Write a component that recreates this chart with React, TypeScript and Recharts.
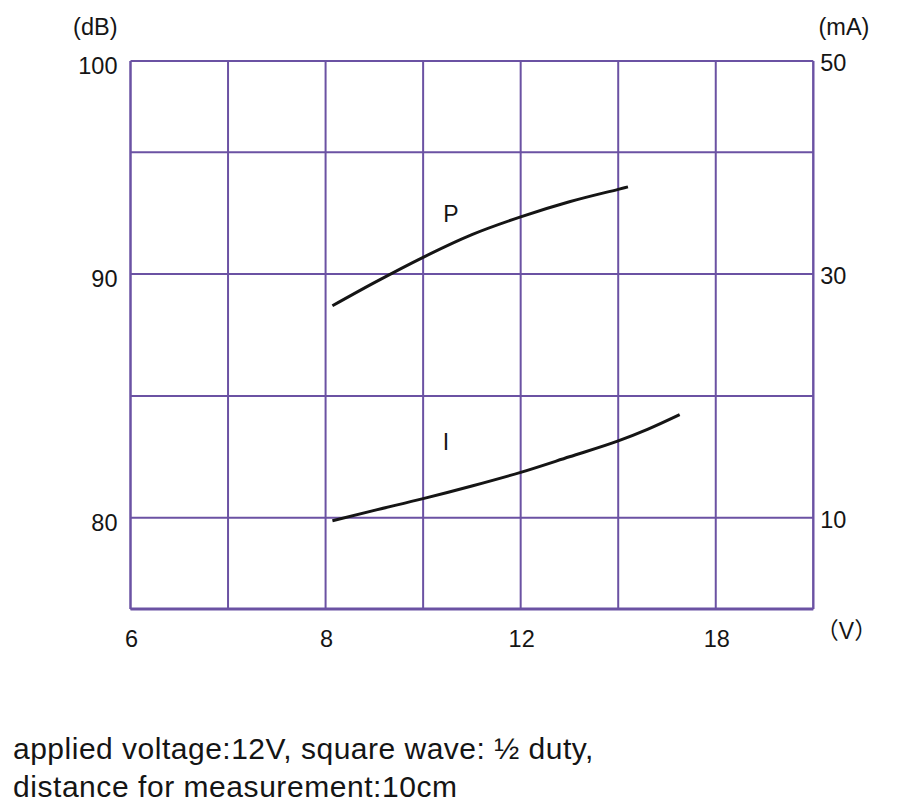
import React from 'react';
import { LineChart, Line, XAxis, YAxis, CartesianGrid, ReferenceDot } from 'recharts';

// x is the grid column (0..7); only some columns carry a voltage label
const columns = [0, 1, 2, 3, 4, 5, 6, 7];
const columnLabels: Record<number, string> = { 0: '6', 2: '8', 4: '12', 6: '18' };

// left axis (dB) and right axis (mA) grid rows
const dbTicks = [76.25, 80, 85, 90, 95, 98.75];
const dbLabels: Record<number, string> = { 80: '80', 90: '90', 98.75: '100' };
const maTicks = [2.5, 10, 20, 30, 40, 47.5];
const maLabels: Record<number, string> = { 10: '10', 30: '30', 47.5: '50' };

// P curve: sound pressure (dB)
const pPos = [2.07, 2.5, 3.0, 3.5, 4.0, 4.5, 5.0, 5.1];
const pDb = [88.7, 89.65, 90.69, 91.62, 92.35, 92.97, 93.48, 93.58];

// I curve: current (mA)
const iPos = [2.07, 2.5, 3.0, 3.5, 4.0, 4.5, 5.0, 5.3, 5.63];
const iMa = [9.75, 10.6, 11.56, 12.6, 13.72, 15.0, 16.3, 17.25, 18.46];

const pData = pPos.map((x, i) => ({ x, v: pDb[i] }));
const iData = iPos.map((x, i) => ({ x, v: iMa[i] }));

const GRID = '#6b52a3';
const INK = '#151515';
const FONT = '"Liberation Sans", Arial, Helvetica, sans-serif';
const CJK = '"Noto Sans CJK SC", "Noto Sans CJK JP", sans-serif';

const LeftTick = (props: any) => {
    const { x, y, payload } = props;
    return (
        <text x={x - 13} y={y + 13} textAnchor="end" fontSize={23.5} fontFamily={FONT} fill={INK}>
            {dbLabels[payload.value] ?? ''}
        </text>
    );
};

const RightTick = (props: any) => {
    const { x, y, payload } = props;
    return (
        <text x={x + 7} y={y + 10} textAnchor="start" fontSize={23.5} fontFamily={FONT} fill={INK}>
            {maLabels[payload.value] ?? ''}
        </text>
    );
};

const BottomTick = (props: any) => {
    const { x, y, payload } = props;
    return (
        <text x={x + 1} y={y + 38} textAnchor="middle" fontSize={23.5} fontFamily={FONT} fill={INK}>
            {columnLabels[payload.value] ?? ''}
        </text>
    );
};

export default function App() {
    return (
        <div style={{ position: 'absolute', left: 0, top: 0, width: 923, height: 803, background: '#fff' }}>
            <LineChart
                width={923}
                height={803}
                margin={{ top: 61, right: 49.7, bottom: 154, left: 70.5 }}
            >
                <CartesianGrid xAxisId="v" yAxisId="db" stroke={GRID} strokeWidth={2} />
                <XAxis
                    xAxisId="v"
                    dataKey="x"
                    type="number"
                    domain={[0, 7]}
                    ticks={columns}
                    interval={0}
                    height={40}
                    tickLine={false}
                    tickSize={0}
                    tickMargin={0}
                    axisLine={{ stroke: GRID, strokeWidth: 3 }}
                    tick={<BottomTick />}
                    allowDataOverflow
                />
                <YAxis
                    yAxisId="db"
                    type="number"
                    domain={[76.25, 98.75]}
                    ticks={dbTicks}
                    interval={0}
                    width={60}
                    tickLine={false}
                    tickSize={0}
                    tickMargin={0}
                    axisLine={{ stroke: GRID, strokeWidth: 2 }}
                    tick={<LeftTick />}
                    allowDataOverflow
                />
                <YAxis
                    yAxisId="ma"
                    orientation="right"
                    type="number"
                    domain={[2.5, 47.5]}
                    ticks={maTicks}
                    interval={0}
                    width={60}
                    tickLine={false}
                    tickSize={0}
                    tickMargin={0}
                    axisLine={{ stroke: GRID, strokeWidth: 2 }}
                    tick={<RightTick />}
                    allowDataOverflow
                />
                <Line
                    xAxisId="v"
                    yAxisId="db"
                    data={pData}
                    dataKey="v"
                    type="monotone"
                    stroke={INK}
                    strokeWidth={3}
                    dot={false}
                    isAnimationActive={false}
                />
                <Line
                    xAxisId="v"
                    yAxisId="ma"
                    data={iData}
                    dataKey="v"
                    type="monotone"
                    stroke={INK}
                    strokeWidth={3}
                    dot={false}
                    isAnimationActive={false}
                />
                <ReferenceDot
                    xAxisId="v"
                    yAxisId="db"
                    x={3.284}
                    y={92.48}
                    r={0}
                    fill="none"
                    stroke="none"
                    label={{ value: 'P', position: 'center', fontSize: 23, fontFamily: FONT, fill: INK }}
                />
                <ReferenceDot
                    xAxisId="v"
                    yAxisId="ma"
                    x={3.235}
                    y={16.26}
                    r={0}
                    fill="none"
                    stroke="none"
                    label={{ value: 'I', position: 'center', fontSize: 23, fontFamily: FONT, fill: INK }}
                />
            </LineChart>

            {/* axis units and the note under the chart */}
            <svg
                width={923}
                height={803}
                style={{ position: 'absolute', left: 0, top: 0, pointerEvents: 'none' }}
                fontFamily={FONT}
                fill={INK}
            >
                <text x={117.5} y={35} textAnchor="end" fontSize={23.5}>(dB)</text>
                <text x={818.5} y={35} fontSize={23.5}>(mA)</text>
                <text x={846.5} y={639} textAnchor="middle" fontSize={23}>
                    <tspan fontFamily={CJK}>（</tspan>
                    <tspan fontFamily={FONT}>V</tspan>
                    <tspan fontFamily={CJK}>）</tspan>
                </text>
                <text x={13} y={759} fontSize={30} letterSpacing={0.5}>
                    applied voltage:12V, square wave: ½ duty,
                </text>
                <text x={13} y={797} fontSize={30} letterSpacing={0.55}>
                    distance for measurement:10cm
                </text>
            </svg>
        </div>
    );
}
